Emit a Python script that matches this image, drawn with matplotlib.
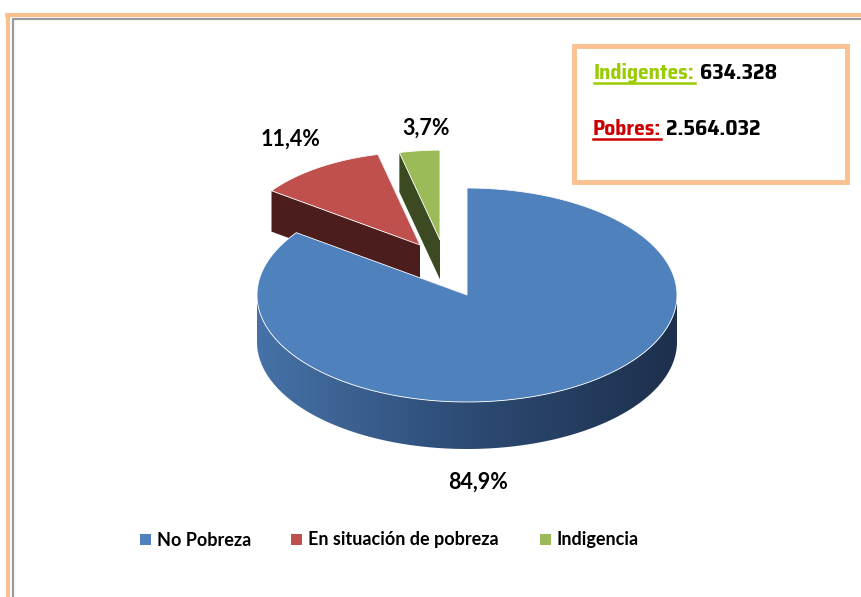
import numpy as np
import matplotlib.pyplot as plt
from matplotlib.patches import Polygon, Rectangle
from matplotlib.colors import LinearSegmentedColormap
from matplotlib.textpath import TextPath
from matplotlib import font_manager

# datos del gráfico
categorias = ['No Pobreza', 'En situación de pobreza', 'Indigencia']
porcentajes = [84.9, 11.4, 3.7]
indigentes = '634.328'
pobres = '2.564.032'

colores_top = ['#4f81bd', '#c0504d', '#9bbb59']
colores_lado = ['#2c4a73', '#4b1d1c', '#3c4a22']
# desplazamiento (px) y escala de perspectiva de cada porción
desplaz = [(0, 0), (-47, -50), (-27, -55)]
escala = [1.0, 0.87, 0.84]
pos_etiquetas = [(478, 482), (291, 139), (426, 128)]

W, H = 861, 597
fig = plt.figure(figsize=(W / 100, H / 100), dpi=100)
ax = fig.add_axes([0, 0, 1, 1])
ax.set_xlim(0, W)
ax.set_ylim(H, 0)
ax.axis('off')

names = {f.name for f in font_manager.fontManager.ttflist}
fuente = 'Lato' if 'Lato' in names else 'DejaVu Sans'

# fuente angosta para el recuadro: la que mejor ajusta al ancho buscado
tam_box = 15.5
muestra = 'Indigentes: 634.328'
objetivo = 179  # px
candidatas = [font_manager.FontProperties(family='Liberation Sans', weight='bold')]
for f in font_manager.fontManager.ttflist:
    nm = f.name.lower()
    if ('narrow' in nm or 'condensed' in nm or f.stretch != 'normal') \
            and f.weight in ('bold', 700):
        candidatas.append(font_manager.FontProperties(fname=f.fname))


def ancho(fp):
    fp = fp.copy()
    fp.set_size(tam_box)
    try:
        return TextPath((0, 0), muestra, prop=fp).get_extents().width * 100 / 72
    except Exception:
        return 1e9


narrow_fp = min(candidatas, key=lambda fp: abs(ancho(fp) - objetivo)).copy()
narrow_fp.set_size(tam_box)

# marco exterior
ax.plot([5, W], [14.5, 14.5], color='#fac090', lw=3, solid_capstyle='butt')
ax.plot([8, 8], [13, H], color='#fac090', lw=3, solid_capstyle='butt')
ax.plot([12, W], [19, 19], color='#9a9a9a', lw=1.6, solid_capstyle='butt')
ax.plot([12.5, 12.5], [18, H], color='#9a9a9a', lw=1.6, solid_capstyle='butt')

# geometría de la torta 3D
cx, cy, rx, ry, prof = 467, 295, 210, 107, 47


def arco(a1, a2, ox, oy, s, n=200):
    ang = np.radians(np.linspace(a1, a2, n))
    return np.column_stack([cx + ox + s * rx * np.cos(ang),
                            cy + oy - s * ry * np.sin(ang)])


grad = LinearSegmentedColormap.from_list('lado', ['#4672a8', '#2d4b74', '#1d304d'])

# ángulos de cada porción, en sentido horario desde las 12
acum = np.cumsum([0] + porcentajes)
rebanadas = []
for i, v in enumerate(porcentajes):
    a2 = (90 - acum[i] * 3.6) % 360
    a1 = (90 - acum[i + 1] * 3.6) % 360
    if a2 <= a1:
        a2 += 360
    rebanadas.append((a1, a2))

for i in [1, 2, 0]:
    a1, a2 = rebanadas[i]
    ox, oy = desplaz[i]
    s = escala[i]
    h = prof * s
    ap = np.array([cx + ox, cy + oy])

    # caras radiales
    for a in (a1, a2):
        p = arco(a, a, ox, oy, s, n=1)[0]
        cara = [ap, p, p + [0, h], ap + [0, h]]
        ax.add_patch(Polygon(cara, closed=True, facecolor=colores_lado[i],
                             edgecolor='none', zorder=2))

    # lateral curvo visible
    lo, hi = max(a1, 180), min(a2, 360)
    if hi > lo:
        sup = arco(lo, hi, ox, oy, s)
        inf = sup[::-1] + [0, h]
        lado = Polygon(np.vstack([sup, inf]), closed=True, facecolor='none',
                       edgecolor='none', zorder=2)
        ax.add_patch(lado)
        x0, x1 = sup[:, 0].min(), sup[:, 0].max()
        img = ax.imshow(np.linspace(0, 1, 256)[None, :], cmap=grad, aspect='auto',
                        extent=(x0, x1, cy + oy + ry + h, cy + oy - 5), zorder=2)
        img.set_clip_path(lado)

    # cara superior
    sup = np.vstack([ap, arco(a1, a2, ox, oy, s)])
    ax.add_patch(Polygon(sup, closed=True, facecolor=colores_top[i],
                         edgecolor='white', lw=0.6, zorder=3))

ax.set_xlim(0, W)
ax.set_ylim(H, 0)

# etiquetas de porcentaje
for (x, y), v in zip(pos_etiquetas, porcentajes):
    ax.text(x, y, f'{v:.1f}%'.replace('.', ','), ha='center', va='center',
            fontsize=15.5, fontweight='bold', family=fuente, color='black', zorder=5)

# leyenda
ley_x = [140, 291, 540]
for x, c, nombre in zip(ley_x, colores_top, categorias):
    ax.add_patch(Rectangle((x, 534), 11, 11, facecolor=c, edgecolor='none'))
    ax.text(x + 17, 540, nombre, ha='left', va='center', fontsize=13,
            fontweight='bold', family=fuente, color='black')

# recuadro con totales
ax.add_patch(Rectangle((574, 46), 273, 136, facecolor='white', edgecolor='#fac090',
                       lw=3.5, zorder=4))

fig.canvas.draw()
ren = fig.canvas.get_renderer()
inv = ax.transData.inverted()


def rotulo(x, y, titulo, color, valor):
    t = ax.text(x, y, titulo, ha='left', va='baseline', fontproperties=narrow_fp,
                color=color, zorder=5)
    bb = t.get_window_extent(ren)
    (xa, _), (xb, _) = inv.transform([[bb.x0, bb.y0], [bb.x1, bb.y1]])
    ax.plot([xa, xb], [y + 3.5, y + 3.5], color=color, lw=1.8, zorder=5)
    ax.text(xb + 5, y, valor, ha='left', va='baseline', fontproperties=narrow_fp,
            color='black', zorder=5)


rotulo(594, 79, 'Indigentes:', '#99cc00', indigentes)
rotulo(593, 135, 'Pobres:', '#cc0000', pobres)

fig.savefig('out.png', dpi=100, facecolor='white')
